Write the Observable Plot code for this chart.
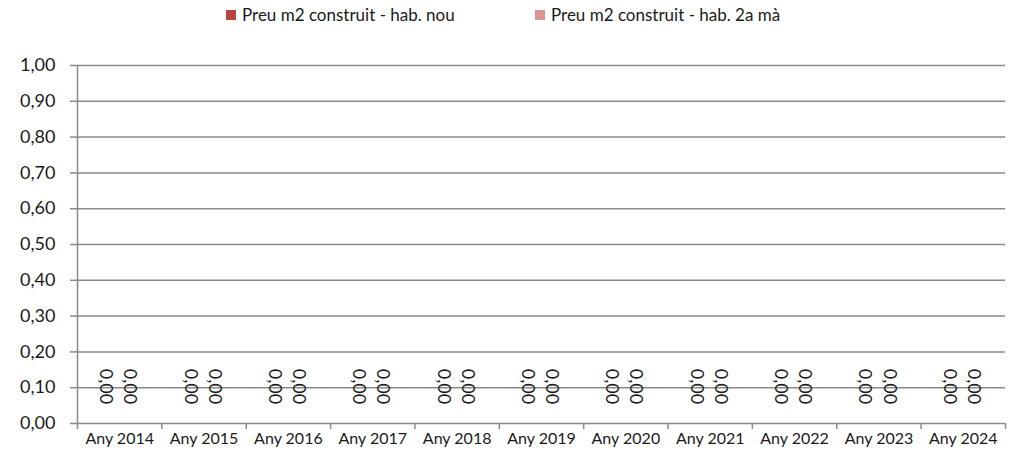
<!DOCTYPE html>
<html><head><meta charset="utf-8">
<script src="https://cdn.jsdelivr.net/npm/d3@7"></script>
<script src="https://cdn.jsdelivr.net/npm/@observablehq/plot@0.6"></script>
<style>
body{margin:0;background:#fff;font-family:Lato,"Open Sans",sans-serif;color:#1a1a1a;}
#legend{height:30px;position:relative;font-size:17px;width:1013px;}
.item{position:absolute;top:5px;display:flex;align-items:center;white-space:nowrap;line-height:20px;}
.sw{width:10px;height:10px;margin-right:6px;display:inline-block;}
#chart svg{display:block;}
</style></head><body>
<div id="legend"></div>
<div id="chart"></div>
<script>
const years = ["Any 2014","Any 2015","Any 2016","Any 2017","Any 2018","Any 2019","Any 2020","Any 2021","Any 2022","Any 2023","Any 2024"];
const seriesNames = ["Preu m2 construit - hab. nou","Preu m2 construit - hab. 2a mà"];
const seriesColors = ["#b7463f","#d99694"];
const valuesNou = [0,0,0,0,0,0,0,0,0,0,0];
const values2a = [0,0,0,0,0,0,0,0,0,0,0];
const yTicks = [0,0.1,0.2,0.3,0.4,0.5,0.6,0.7,0.8,0.9,1.0];

const fmt = v => d3.format(".2f")(v).replace(".", ",");
const seriesValues = [valuesNou, values2a];
const data = years.flatMap((year, i) => seriesNames.map((s, j) => ({i, j, year, series: s, value: seriesValues[j][i]})));

// legend
const legend = document.getElementById("legend");
const legendLeft = [226, 535];
seriesNames.forEach((s, j) => {
  const it = document.createElement("div");
  it.className = "item";
  it.style.left = legendLeft[j] + "px";
  it.innerHTML = `<span class="sw" style="background:${seriesColors[j]}"></span><span>${s}</span>`;
  legend.appendChild(it);
});

const gridColor = "#8a8a8a";
const n = years.length;
const gap = 1.5, slots = 2 + gap; // Excel gap width 150%

const chart = Plot.plot({
  width: 1013,
  height: 428,
  marginLeft: 77,
  marginRight: 8,
  marginTop: 35,
  marginBottom: 35,
  style: {fontFamily: "Lato, 'Open Sans', sans-serif", fontSize: "16px", color: "#1a1a1a", background: "#fff"},
  x: {domain: [0, n], axis: null},
  y: {domain: [0, 1], axis: null},
  color: {domain: seriesNames, range: seriesColors},
  marks: [
    Plot.gridY(yTicks, {stroke: gridColor, strokeOpacity: 1, strokeWidth: 1.5}),
    Plot.axisY(yTicks, {label: null, tickSize: 7, tickPadding: 15, tickFormat: fmt, stroke: gridColor, strokeWidth: 1.5, fill: "#1a1a1a", fontSize: 18}),
    Plot.ruleX([0], {stroke: gridColor, strokeWidth: 1.5}),
    Plot.rectY(data, {x1: d => d.i + (gap / 2 + d.j) / slots, x2: d => d.i + (gap / 2 + d.j + 1) / slots, y: "value", fill: "series"}),
    Plot.text(data, {x: d => d.i + (gap / 2 + d.j + 0.5) / slots - 0.02, y: "value", text: d => fmt(d.value), rotate: 90, dy: -37, fontSize: 18, fill: "#1a1a1a"}),
    Plot.axisX(d3.range(n + 1), {label: null, tickSize: 6, tickFormat: () => "", stroke: gridColor, strokeWidth: 1.5}),
    Plot.axisX(d3.range(n).map(i => i + 0.5), {label: null, tickSize: 0, tickPadding: 9, fontSize: 16, tickFormat: d => years[Math.floor(d)], fill: "#1a1a1a"})
  ]
});
document.getElementById("chart").appendChild(chart);
</script>
</body></html>
